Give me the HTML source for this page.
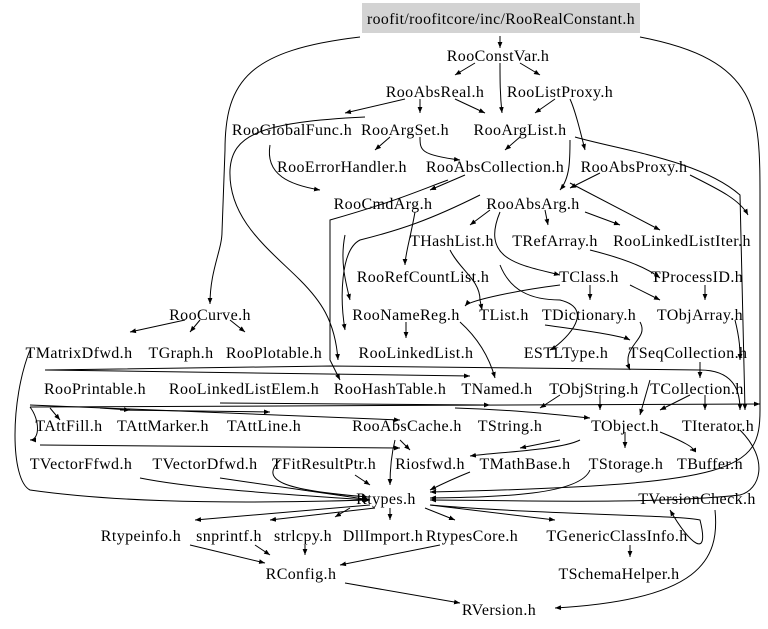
<!DOCTYPE html>
<html><head><meta charset="utf-8"><style>
html,body{margin:0;padding:0;background:#fff;width:768px;height:629px;overflow:hidden}
svg text{font-family:"Liberation Serif",serif;font-size:16px;letter-spacing:0.4px;fill:#000}
</style></head><body>
<svg width="768" height="629" viewBox="0 0 768 629" xmlns="http://www.w3.org/2000/svg">
<defs><marker id="a" viewBox="0 0 10 10" refX="10" refY="5" markerWidth="6" markerHeight="6" orient="auto"><path d="M0,1 L10,5 L0,9 z" fill="#000"/></marker></defs>
<rect x="362" y="3" width="278" height="30" fill="#d3d3d3"/>
<g fill="none" stroke="#000" stroke-width="1" marker-end="url(#a)">
<path d="M500,36 L500,48"/>
<path d="M360,37 C250,50 225,80 225,150 L222,232 C222,250 210,270 210,304"/>
<path d="M640,37 C760,60 760,110 760,200 L760,410 C760,470 740,485 430,492"/>
<path d="M475,63 L455,75"/><path d="M520,63 L540,75"/><path d="M500,63 C500,80 500,95 502,113"/>
<path d="M405,99 L345,113"/><path d="M420,99 L420,113"/><path d="M455,99 L485,113"/>
<path d="M570,99 C575,110 580,130 585,150"/><path d="M555,99 L535,113"/>
<path d="M365,117 C260,122 232,135 230,170 C228,220 270,250 300,280 C320,300 335,320 338,360"/>
<path d="M390,137 L375,150"/><path d="M420,137 C420,150 420,155 460,160"/>
<path d="M520,137 L505,150"/><path d="M575,137 C620,150 700,160 740,195 L745,410"/>
<path d="M270,145 C265,175 290,185 320,190"/>
<path d="M570,140 C570,160 570,178 560,190"/><path d="M465,175 L430,190"/>
<path d="M448,180 C420,190 400,200 330,220 L330,360 L340,380"/>
<path d="M600,173 L570,188"/><path d="M690,175 C720,190 740,200 748,215"/>
<path d="M490,210 L470,225"/><path d="M545,210 L548,225"/><path d="M585,212 L620,225"/>
<path d="M570,183 L660,230"/>
<path d="M500,212 C480,260 520,265 560,275"/>
<path d="M480,195 C430,220 400,230 360,240 C340,250 340,300 345,330"/>
<path d="M415,212 C410,240 405,255 405,265"/>
<path d="M450,250 C460,270 480,280 480,300 L482,310"/>
<path d="M590,250 C630,260 650,270 660,278"/>
<path d="M560,285 C520,290 470,300 465,306"/>
<path d="M590,285 L590,300"/><path d="M630,285 L660,300"/><path d="M705,285 L705,300"/>
<path d="M545,325 C580,330 620,335 630,340"/><path d="M735,320 C740,340 740,350 740,360"/>
<path d="M640,322 C650,340 620,345 630,370"/>
<path d="M185,320 L130,332"/><path d="M200,320 L190,332"/><path d="M230,320 L245,332"/>
<path d="M406,322 L406,338"/><path d="M460,322 C480,340 490,360 495,378"/>
<path d="M700,362 L700,378"/>
<path d="M30,407 C40,420 40,440 30,440"/>
<path d="M45,370 L330,366 L700,370 C740,370 740,400 740,410"/>
<path d="M45,370 L470,376"/>
<path d="M30,407 L760,404"/><path d="M40,445 L400,448"/><path d="M220,403 L490,405"/>
<path d="M50,408 L60,420"/><path d="M100,408 L130,410"/><path d="M120,410 L270,412"/>
<path d="M30,405 L400,420"/>
<path d="M650,380 L640,415"/><path d="M455,408 C520,410 560,415 590,418"/>
<path d="M560,395 L540,408"/><path d="M600,395 L600,410"/><path d="M690,395 L660,410"/>
<path d="M705,395 L705,410"/>
<path d="M580,440 C560,450 500,452 470,456"/><path d="M625,432 L625,448"/><path d="M660,432 C680,440 700,450 690,450"/>
<path d="M560,440 L520,448"/><path d="M400,440 L410,450"/>
<path d="M30,350 C10,400 10,480 30,490 C100,500 200,505 370,500"/>
<path d="M140,478 C200,490 300,495 368,500"/>
<path d="M220,478 C300,490 340,495 370,500"/>
<path d="M280,460 C260,480 280,490 368,497"/>
<path d="M355,475 L370,485"/>
<path d="M395,440 C390,460 390,480 390,485"/>
<path d="M470,472 C450,480 440,485 430,490"/>
<path d="M590,470 C580,495 500,497 430,498"/>
<path d="M740,430 C770,460 760,490 740,495 C650,505 500,500 430,500"/>
<path d="M430,505 C550,515 680,515 700,520 C710,560 690,545 670,510"/>
<path d="M370,505 L195,520"/><path d="M375,508 L270,520"/><path d="M350,508 L335,517"/>
<path d="M390,508 L390,520"/><path d="M425,508 L455,520"/><path d="M430,505 L555,520"/>
<path d="M190,545 L265,563"/><path d="M255,545 L270,555"/><path d="M305,545 L305,555"/>
<path d="M440,545 L340,565"/><path d="M630,545 L630,557"/>
<path d="M345,583 L460,603"/><path d="M715,510 C720,560 700,600 555,608"/>
<path d="M345,235 C340,260 345,280 350,300"/>
<path d="M500,265 C510,290 530,300 560,300 C600,310 560,345 550,350"/>
</g>
<g text-anchor="middle">
<text x="501" y="24" textLength="268" lengthAdjust="spacingAndGlyphs">roofit/roofitcore/inc/RooRealConstant.h</text>
<text x="498" y="61">RooConstVar.h</text>
<text x="435" y="97">RooAbsReal.h</text>
<text x="560" y="97">RooListProxy.h</text>
<text x="292" y="135">RooGlobalFunc.h</text>
<text x="405" y="135">RooArgSet.h</text>
<text x="520" y="135">RooArgList.h</text>
<text x="342" y="172">RooErrorHandler.h</text>
<text x="495" y="172">RooAbsCollection.h</text>
<text x="634" y="172">RooAbsProxy.h</text>
<text x="383" y="209">RooCmdArg.h</text>
<text x="533" y="209">RooAbsArg.h</text>
<text x="452" y="246">THashList.h</text>
<text x="555" y="246">TRefArray.h</text>
<text x="682" y="246">RooLinkedListIter.h</text>
<text x="423" y="282">RooRefCountList.h</text>
<text x="589" y="282">TClass.h</text>
<text x="697" y="282">TProcessID.h</text>
<text x="210" y="320">RooCurve.h</text>
<text x="406" y="320">RooNameReg.h</text>
<text x="504" y="320">TList.h</text>
<text x="589" y="320">TDictionary.h</text>
<text x="700" y="320">TObjArray.h</text>
<text x="79" y="358">TMatrixDfwd.h</text>
<text x="181" y="358">TGraph.h</text>
<text x="274" y="358">RooPlotable.h</text>
<text x="416" y="358">RooLinkedList.h</text>
<text x="566" y="358">ESTLType.h</text>
<text x="688" y="358">TSeqCollection.h</text>
<text x="95" y="394">RooPrintable.h</text>
<text x="244" y="394">RooLinkedListElem.h</text>
<text x="390" y="394">RooHashTable.h</text>
<text x="497" y="394">TNamed.h</text>
<text x="594" y="394">TObjString.h</text>
<text x="697" y="394">TCollection.h</text>
<text x="69" y="431">TAttFill.h</text>
<text x="163" y="431">TAttMarker.h</text>
<text x="264" y="431">TAttLine.h</text>
<text x="407" y="431">RooAbsCache.h</text>
<text x="510" y="431">TString.h</text>
<text x="625" y="431">TObject.h</text>
<text x="718" y="431">TIterator.h</text>
<text x="81" y="469">TVectorFfwd.h</text>
<text x="205" y="469">TVectorDfwd.h</text>
<text x="324" y="469">TFitResultPtr.h</text>
<text x="430" y="469">Riosfwd.h</text>
<text x="525" y="469">TMathBase.h</text>
<text x="626" y="469">TStorage.h</text>
<text x="710" y="469">TBuffer.h</text>
<text x="386" y="504">Rtypes.h</text>
<text x="697" y="504">TVersionCheck.h</text>
<text x="141" y="541">Rtypeinfo.h</text>
<text x="229" y="541">snprintf.h</text>
<text x="303" y="541">strlcpy.h</text>
<text x="383" y="541">DllImport.h</text>
<text x="472" y="541">RtypesCore.h</text>
<text x="617" y="541">TGenericClassInfo.h</text>
<text x="301" y="579">RConfig.h</text>
<text x="619" y="579">TSchemaHelper.h</text>
<text x="499" y="615">RVersion.h</text>
</g>
</svg>
</body></html>
